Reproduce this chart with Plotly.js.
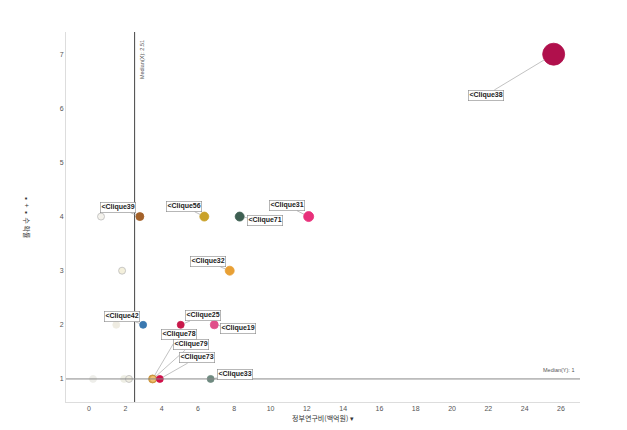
<!DOCTYPE html>
<html>
<head>
<meta charset="utf-8">
<script src="https://cdn.plot.ly/plotly-3.0.1.min.js"></script>
<style>html,body{margin:0;padding:0;background:#fff;}#chart{width:627px;height:430px;}</style>
</head>
<body>
<div id="chart"></div>
<script>
// data
const pointNames = ["Clique38","Clique39","","Clique56","Clique71","Clique31","Clique32","","Clique42","","Clique25","Clique19","Clique78","Clique79","Clique73","Clique33","","",""];
const xValues = [25.6, 2.8, 0.66, 6.35, 8.3, 12.1, 7.75, 1.82, 2.98, 1.5, 5.05, 6.9, 3.5, 3.52, 3.9, 6.7, 0.22, 1.93, 2.2];
const yValues = [7, 4, 4, 4, 4, 4, 3, 3, 2, 2, 2, 2, 1, 1, 1, 1, 1, 1, 1];
const sizes = [22, 8, 7, 9, 9, 10, 9, 7, 7, 7, 7, 8, 8, 7, 7, 7, 7, 7, 7];
const colors = ["#b0104c","#a4622a","#f4f2ec","#c9a22a","#3e5f52","#e8307a","#e8a035","#f4f0dc","#3a78b0","#efece2","#c8184a","#e0508a","#f4c070","#f4c070","#d0104a","#6f8a80","#eeeeea","#eeeee4","#f0eee2"];
const xTicks = [0,2,4,6,8,10,12,14,16,18,20,22,24,26];
const yTicks = [1,2,3,4,5,6,7];
const medianX = 2.51;
const medianY = 1;
const xTitle = "정부연구비(백억원) ▾";
const yTitle = "▪ + ▪ 수 확률";
// label offsets (pixels) for each named point
const labelDX = {Clique38:-68, Clique39:-22, Clique56:-20, Clique71:25, Clique31:-22, Clique32:-22, Clique42:-21, Clique25:22, Clique19:24, Clique78:26, Clique79:38, Clique73:37, Clique33:24};
const labelDY = {Clique38:41, Clique39:-9, Clique56:-10, Clique71:4, Clique31:-11, Clique32:-9, Clique42:-8, Clique25:-9, Clique19:4, Clique78:-44, Clique79:-34, Clique73:-21, Clique33:-4};

const lineColors = colors.map(c => (c.startsWith("#f") && c !== "#f4c070") ? "#bbb" : (c === "#f4c070" ? "#c08a30" : c));

const trace = {
  type: "scatter", mode: "markers",
  x: xValues, y: yValues,
  marker: {size: sizes, color: colors, opacity: 1, line: {color: lineColors, width: 0.8}},
  hoverinfo: "none"
};

const annotations = [];
pointNames.forEach((n, i) => {
  if (!n) return;
  annotations.push({
    x: xValues[i], y: yValues[i], xref: "x", yref: "y",
    text: "<b>&lt;" + n + "</b>",
    showarrow: true, arrowhead: 0, arrowwidth: 0.6, arrowcolor: "#999",
    ax: labelDX[n], ay: labelDY[n], standoff: sizes[i] / 2,
    bgcolor: "#fff", bordercolor: "#888", borderwidth: 0.6, borderpad: 0.8,
    font: {family: "Liberation Sans, Arial, sans-serif", size: 7, color: "#222"}
  });
});
annotations.push({
  x: medianX, y: 1, xref: "x", yref: "paper", xanchor: "left", yanchor: "top",
  xshift: 2, yshift: -6, textangle: -90, showarrow: false,
  text: "Median(X): 2.51", font: {family: "Liberation Sans, Arial, sans-serif", size: 5.5, color: "#555"}
});
annotations.push({
  x: 1, y: medianY, xref: "paper", yref: "y", xanchor: "right", yanchor: "bottom",
  xshift: -3, yshift: 4, showarrow: false,
  text: "Median(Y): 1", font: {family: "Liberation Sans, Arial, sans-serif", size: 5.5, color: "#555"}
});
annotations.push({
  x: 0, y: 0.5, xref: "paper", yref: "paper", xanchor: "center", yanchor: "middle",
  xshift: -39, yshift: 0, textangle: 90, showarrow: false,
  text: yTitle, font: {family: "Noto Sans CJK KR, sans-serif", size: 7, color: "#333"}
});

const layout = {
  width: 627, height: 430,
  margin: {l: 66, r: 47, t: 32, b: 28},
  paper_bgcolor: "#fff", plot_bgcolor: "#fff",
  showlegend: false,
  xaxis: {
    range: [-1.27, 27.05], tickvals: xTicks, showgrid: false, zeroline: false,
    showline: true, linecolor: "#ddd", linewidth: 1, ticks: "",
    tickfont: {family: "Liberation Sans, Arial, sans-serif", size: 7, color: "#555"},
    title: {text: xTitle, standoff: 4, font: {family: "Noto Sans CJK KR, sans-serif", size: 7, color: "#333"}},
    automargin: false
  },
  yaxis: {
    range: [0.574, 7.41], tickvals: yTicks, showgrid: false, zeroline: false,
    showline: true, linecolor: "#ddd", linewidth: 1, ticks: "",
    tickfont: {family: "Liberation Sans, Arial, sans-serif", size: 7, color: "#555"},
    automargin: false
  },
  shapes: [
    {type: "line", xref: "x", yref: "paper", x0: medianX, x1: medianX, y0: 0, y1: 1, line: {color: "#444", width: 1}},
    {type: "line", xref: "paper", yref: "y", x0: 0, x1: 1, y0: medianY, y1: medianY, line: {color: "#888", width: 1}}
  ],
  annotations: annotations
};

Plotly.newPlot("chart", [trace], layout, {displayModeBar: false, staticPlot: true});
</script>
</body>
</html>
